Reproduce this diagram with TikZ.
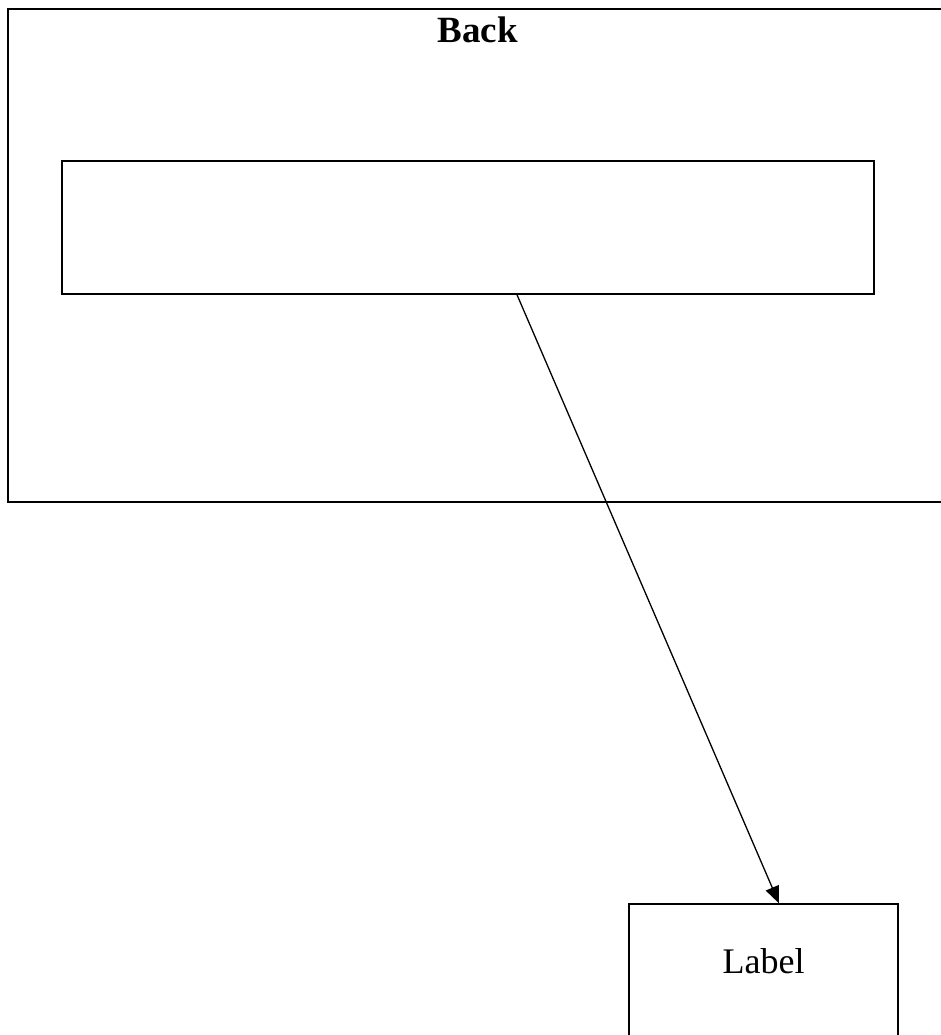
\documentclass[tikz,border=0pt]{standalone}
\usepackage{fontspec}
\setmainfont{Liberation Serif}
\usetikzlibrary{arrows.meta}
\tikzset{
  outerbox/.style={draw=black, line width=2pt, minimum width=952pt, minimum height=493pt, inner sep=0pt},
  innerbox/.style={draw=black, line width=1.5pt, minimum width=812pt, minimum height=133pt, inner sep=0pt},
  labelbox/.style={draw=black, line width=1.3pt, minimum width=269pt, minimum height=196pt, inner sep=0pt},
  title/.style={font=\fontsize{37}{40}\selectfont\bfseries, inner sep=0pt, anchor=base},
  labeltext/.style={font=\fontsize{36}{40}\selectfont, inner sep=0pt, anchor=base},
  arr/.style={-{Triangle[length=17pt,width=14pt]}, line width=1.3pt, shorten >=0pt}
}
\begin{document}
\begin{tikzpicture}[x=1pt,y=-1pt]
  \useasboundingbox (0,0) rectangle (941,1035);
  \clip (0,0) rectangle (941,1035);
  \fill[white] (0,0) rectangle (941,1035);
  \node[outerbox] (back) at (484,255.5) {};
  \node[title] (backtitle) at (477.5,43) {Back};
  \node[innerbox] (inner) at (468,227.5) {};
  \node[labelbox] (lab) at (763.5,1002) {};
  \node[labeltext] (labtext) at (763.5,973) {Label};
  \coordinate (s) at (517,294);
  \coordinate (t) at (779,904);
  \draw[arr] (inner.south -| s) -- (lab.north -| t);
\end{tikzpicture}
\end{document}
